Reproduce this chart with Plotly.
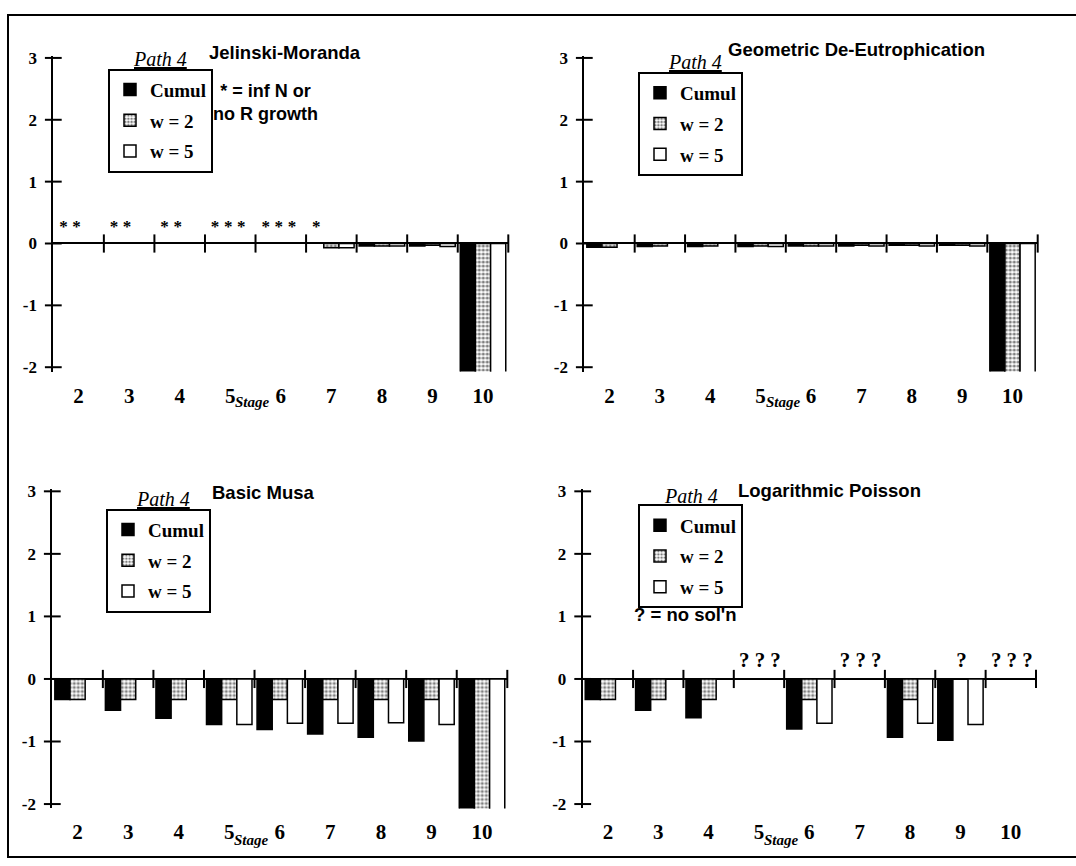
import plotly.graph_objects as go

# ---------------- data ----------------
stages = [2, 3, 4, 5, 6, 7, 8, 9, 10]
tick_text = ["2", "3", "4", "5", "6", "7", "8", "9", "10"]
series_names = ["Cumul", "w = 2", "w = 5"]
panel_titles = ["Jelinski-Moranda", "Geometric De-Eutrophication",
                "Basic Musa", "Logarithmic Poisson"]
y_ticks = [-2, -1, 0, 1, 2, 3]
y_tick_text = ["-2", "-1", "0", "1", "2", "3"]

# Jelinski-Moranda (top left)
jm_cumul = [None, None, None, None, None, None, -0.04, -0.04, -2.5]
jm_w2 = [None, None, None, None, None, -0.07, -0.04, -0.03, -2.5]
jm_w5 = [None, None, None, None, None, -0.07, -0.04, -0.05, -2.5]

# Geometric De-Eutrophication (top right)
gd_cumul = [-0.06, -0.05, -0.05, -0.05, -0.04, -0.04, -0.03, -0.03, -2.5]
gd_w2 = [-0.06, -0.04, -0.04, -0.04, -0.04, -0.03, -0.03, -0.03, -2.5]
gd_w5 = [None, None, None, -0.05, -0.04, -0.04, -0.04, -0.04, -2.5]

# Basic Musa (bottom left)
bm_cumul = [-0.33, -0.50, -0.63, -0.73, -0.81, -0.88, -0.93, -0.99, -2.5]
bm_w2 = [-0.33, -0.33, -0.33, -0.33, -0.33, -0.33, -0.33, -0.33, -2.5]
bm_w5 = [None, None, None, -0.73, -0.71, -0.71, -0.70, -0.73, -2.5]

# Logarithmic Poisson (bottom right)
lp_cumul = [-0.33, -0.50, -0.62, None, -0.80, None, -0.93, -0.98, None]
lp_w2 = [-0.33, -0.33, -0.33, None, -0.33, None, -0.33, None, None]
lp_w5 = [None, None, None, None, -0.71, None, -0.71, -0.73, None]

# "*" markers (inf N or no R growth) for Jelinski-Moranda: stage, bar slot
star_stage = [2, 2, 3, 3, 4, 4, 5, 5, 5, 6, 6, 6, 7]
star_slot = [0, 1, 0, 1, 0, 1, 0, 1, 2, 0, 1, 2, 0]
# "?" markers (no solution) for Logarithmic Poisson: stage, bar slot
q_stage = [5, 5, 5, 7, 7, 7, 9, 10, 10, 10]
q_slot = [0, 1, 2, 0, 1, 2, 1, 0, 1, 2]

panels = [
    (jm_cumul, jm_w2, jm_w5),
    (gd_cumul, gd_w2, gd_w5),
    (bm_cumul, bm_w2, bm_w5),
    (lp_cumul, lp_w2, lp_w5),
]

# ---------------- layout geometry (page pixels) ----------------
W, H = 1076, 866


def PX(p):
    return p / W


def PY(p):
    return 1 - p / H


YR = [-2.07, 3.03]
# x extent of each plot area (y axis .. last boundary tick)
x_px = [(53.3, 508.3), (584.3, 1037.7), (52.3, 507.3), (582.7, 1036.0)]
# pixel of y = 3 and pixels per unit
y3_px = [51.7, 51.7, 491.7, 491.7]
unit_px = [62.8, 62.8, 63.5, 63.5]

SERIF = "Liberation Serif"
SANS = "Liberation Sans"

fig = go.Figure()

bar_styles = [
    dict(color="black", line=dict(color="black", width=1.5)),
    dict(color="white", line=dict(color="black", width=1.5),
         pattern=dict(shape=".", fgcolor="black", bgcolor="white", size=4, solidity=0.5)),
    dict(color="white", line=dict(color="black", width=1.5)),
]

for p, series in enumerate(panels):
    k = "" if p == 0 else str(p + 1)
    xa, ya = "x" + k, "y" + k
    lg = "legend" + k
    for s, vals in enumerate(series):
        fig.add_trace(go.Bar(
            x=stages, y=vals, name=series_names[s], xaxis=xa, yaxis=ya,
            marker=bar_styles[s], legend=lg, legendgroup=f"p{p}s{s}",
            showlegend=True,
        ))
    # crossing tick marks on the y axis
    fig.add_trace(go.Scatter(
        x=[1.5] * len(y_ticks), y=y_ticks, mode="markers", xaxis=xa, yaxis=ya,
        marker=dict(symbol="line-ew", size=12, line=dict(color="black", width=2)),
        showlegend=False, cliponaxis=False, hoverinfo="skip",
    ))
    # category boundary ticks on the zero line
    fig.add_trace(go.Scatter(
        x=[s_ + 0.5 for s_ in stages], y=[0] * len(stages), mode="markers",
        xaxis=xa, yaxis=ya,
        marker=dict(symbol="line-ns", size=13, line=dict(color="black", width=2)),
        showlegend=False, cliponaxis=False, hoverinfo="skip",
    ))

# asterisks on panel 1
fig.add_trace(go.Scatter(
    x=[st + (sl - 1) * 0.26 - 0.04 for st, sl in zip(star_stage, star_slot)],
    y=[0.25] * len(star_stage), mode="text", text=["*"] * len(star_stage),
    textfont=dict(family=SERIF, size=17, color="black", weight="bold"),
    xaxis="x", yaxis="y", showlegend=False, cliponaxis=False, hoverinfo="skip",
))
# question marks on panel 4
fig.add_trace(go.Scatter(
    x=[st + (sl - 1) * 0.31 + 0.02 for st, sl in zip(q_stage, q_slot)],
    y=[0.28] * len(q_stage), mode="text", text=["?"] * len(q_stage),
    textfont=dict(family=SERIF, size=21, color="black", weight="bold"),
    xaxis="x4", yaxis="y4", showlegend=False, cliponaxis=False, hoverinfo="skip",
))

layout = dict(
    width=W, height=H, margin=dict(l=0, r=0, t=0, b=0),
    paper_bgcolor="white", plot_bgcolor="white",
    barmode="group", bargap=0.1, bargroupgap=0.0,
    font=dict(family=SERIF, color="black"),
    showlegend=True,
)

legend_pos = [(108, 62.7), (638, 66), (106, 509.3), (638, 505)]
for p in range(4):
    k = "" if p == 0 else str(p + 1)
    x0, x1 = x_px[p]
    top = y3_px[p] - (YR[1] - 3) * unit_px[p]
    bot = y3_px[p] + (3 - YR[0]) * unit_px[p]
    layout["xaxis" + k] = dict(
        domain=[PX(x0), PX(x1)], range=[1.5, 10.5], anchor="y" + k,
        tickmode="array", tickvals=stages, ticktext=tick_text,
        showgrid=False, zeroline=False, showline=False, ticks="",
        tickfont=dict(family=SERIF, size=21, weight="bold"),
        ticklabelstandoff=9, fixedrange=True,
    )
    layout["yaxis" + k] = dict(
        domain=[PY(bot), PY(top)], range=YR, anchor="x" + k,
        tickmode="array", tickvals=y_ticks, ticktext=y_tick_text,
        showgrid=False, zeroline=True, zerolinecolor="black", zerolinewidth=2,
        showline=True, linecolor="black", linewidth=2, ticks="",
        tickfont=dict(family=SERIF, size=17, weight="bold"),
        ticklabelstandoff=11, fixedrange=True,
    )
    lx, ly = legend_pos[p]
    layout["legend" + k] = dict(
        x=PX(lx), y=PY(ly), xanchor="left", yanchor="top",
        bordercolor="black", borderwidth=2, bgcolor="white",
        font=dict(family=SERIF, size=19, weight="bold", color="black"),
        traceorder="grouped", tracegroupgap=3, itemclick=False,
    )

fig.update_layout(**layout)


def px_ann(text, x, y, size, family=SANS, xanchor="left", weight="bold", align="left"):
    fig.add_annotation(
        text=text, x=PX(x), y=PY(y), xref="paper", yref="paper",
        xanchor=xanchor, yanchor="middle", showarrow=False, align=align,
        font=dict(family=family, size=size, color="black", weight=weight),
    )


# panel titles
title_pos = [(206.7, 46.7), (726, 43.3), (210, 493.3), (736, 490.7)]
for (tx, ty), title in zip(title_pos, panel_titles):
    px_ann(title, tx, ty, 18.5)

# "Path 4" headers above legends
path_pos = [(160, 53), (695, 56), (163, 499), (691, 496)]
for (tx, ty) in path_pos:
    px_ann("<u><i>Path 4</i></u>", tx, ty, 20, family=SERIF, xanchor="center", weight="normal")

# notes
px_ann("* = inf N or<br>no R growth", 265, 97, 18, xanchor="center", align="center")
px_ann("? = no sol'n", 685, 617, 18.5, xanchor="center")

# "Stage" subscript next to tick label 5
for p, (xa, ybase) in enumerate([("x", 401), ("x2", 401), ("x3", 846), ("x4", 846)]):
    fig.add_annotation(
        text="<i>Stage</i>", x=5, xref=xa, y=PY(ybase), yref="paper",
        xanchor="left", yanchor="middle", xshift=3, showarrow=False,
        font=dict(family=SERIF, size=15, color="black", weight="bold"),
    )

# outer frame (left, top, bottom edges; right edge runs off the page)
fig.add_shape(type="rect", xref="paper", yref="paper",
              x0=PX(8), x1=1.02, y0=PY(863), y1=PY(8),
              line=dict(color="black", width=2), layer="above")

fig.write_html("out.html")
